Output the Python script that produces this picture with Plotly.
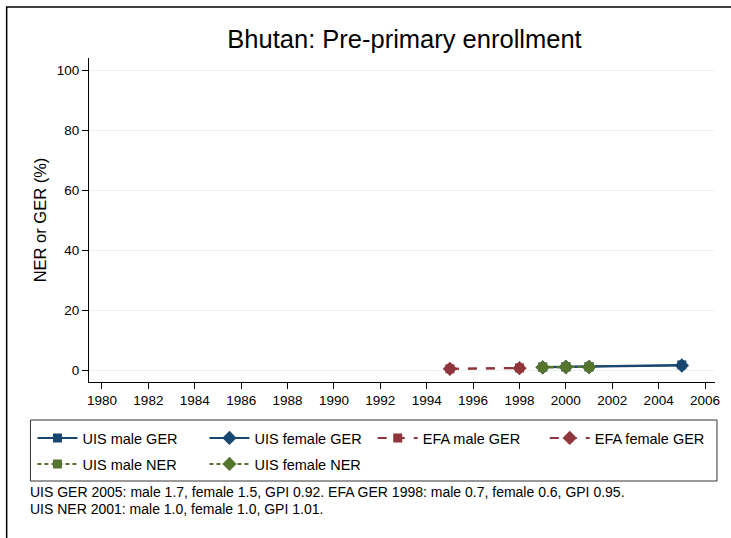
import plotly.graph_objects as go

# ---- data ----
uis_ger_years = [1999, 2000, 2001, 2005]
uis_male_ger = [1.0, 1.1, 1.1, 1.7]
uis_female_ger = [0.9, 1.0, 1.0, 1.5]
efa_years = [1995, 1998]
efa_male_ger = [0.4, 0.7]
efa_female_ger = [0.4, 0.6]
uis_ner_years = [1999, 2000, 2001]
uis_male_ner = [0.9, 1.0, 1.0]
uis_female_ner = [0.9, 1.0, 1.0]
x_ticks = list(range(1980, 2007, 2))
y_ticks = [0, 20, 40, 60, 80, 100]
title_text = "Bhutan: Pre-primary enrollment"
note_lines = [
    "UIS GER 2005: male 1.7, female 1.5, GPI 0.92. EFA GER 1998: male 0.7, female 0.6, GPI 0.95.",
    "UIS NER 2001: male 1.0, female 1.0, GPI 1.01.",
]

BLUE = "#1a476f"
RED = "#90353b"
GREEN = "#55752f"
FONT = "Liberation Sans, Arial, Helvetica, sans-serif"

W, H = 731, 538
L, R, T, B = 89, 720, 58, 382


def px(x):
    return (x - L) / (R - L)


def py(y):
    return (B - y) / (B - T)


fig = go.Figure()

series = [
    ("UIS male GER", uis_ger_years, uis_male_ger, BLUE, "square", "solid", "legend"),
    ("UIS female GER", uis_ger_years, uis_female_ger, BLUE, "diamond", "solid", "legend"),
    ("EFA male GER", efa_years, efa_male_ger, RED, "square", "dash", "legend3"),
    ("EFA female GER", efa_years, efa_female_ger, RED, "diamond", "dash", "legend3"),
    ("UIS male NER", uis_ner_years, uis_male_ner, GREEN, "square", "4px,3px", "legend2"),
    ("UIS female NER", uis_ner_years, uis_female_ner, GREEN, "diamond", "4px,3px", "legend2"),
]
for name, xs, ys, col, sym, dash, lg in series:
    fig.add_trace(go.Scatter(
        x=xs, y=ys, name=name, mode="lines+markers",
        line=dict(color=col, width=2, dash=dash),
        marker=dict(color=col, symbol=sym, size=11 if sym == "diamond" else 9),
        legend=lg,
    ))

legend_common = dict(
    orientation="h", xanchor="left", yanchor="middle",
    font=dict(family=FONT, size=14.5, color="#000"),
    bgcolor="rgba(0,0,0,0)", borderwidth=0,
    entrywidth=117, entrywidthmode="pixels", itemwidth=40,
)

fig.update_layout(
    width=W, height=H,
    margin=dict(l=L, r=W - R, t=T, b=H - B),
    paper_bgcolor="white", plot_bgcolor="white",
    font=dict(family=FONT, color="#000"),
    title=dict(text=title_text, x=(L + R) / 2 / W, xanchor="center",
               y=1 - 39 / H, yanchor="middle", yref="container",
               font=dict(size=25.5, color="#000")),
    xaxis=dict(range=[1979.44, 2006.43], tickvals=x_ticks, showgrid=False,
               zeroline=False, showline=True, linecolor="#000", linewidth=1,
               ticks="outside", ticklen=6, tickcolor="#000",
               tickfont=dict(size=13.5)),
    yaxis=dict(range=[-4, 104], tickvals=y_ticks, showgrid=True,
               gridcolor="#eaf2f3", gridwidth=1, zeroline=False,
               showline=True, linecolor="#000", linewidth=1,
               ticks="outside", ticklen=6, tickcolor="#000",
               tickfont=dict(size=13.5),
               title=dict(text="NER or GER (%)", font=dict(size=16.5), standoff=5)),
    legend=dict(x=px(32), y=py(438), **legend_common),
    legend3=dict(x=px(375), y=py(438), **legend_common),
    legend2=dict(x=px(32), y=py(464), **legend_common),
    shapes=[
        dict(type="rect", xref="paper", yref="paper",
             x0=px(30), x1=px(722), y0=py(420), y1=py(481),
             line=dict(color="#333", width=1), fillcolor="rgba(0,0,0,0)", layer="above"),
        dict(type="rect", xref="paper", yref="paper",
             x0=px(6), x1=px(740), y0=py(7), y1=py(545),
             line=dict(color="#000", width=1.5), fillcolor="rgba(0,0,0,0)", layer="above"),
    ],
    annotations=[
        dict(text=note_lines[0], xref="paper", yref="paper", x=px(29), y=py(492),
             xanchor="left", yanchor="middle", align="left", showarrow=False,
             borderpad=0, font=dict(size=14, color="#000")),
        dict(text=note_lines[1], xref="paper", yref="paper", x=px(29), y=py(509),
             xanchor="left", yanchor="middle", align="left", showarrow=False,
             borderpad=0, font=dict(size=14, color="#000")),
    ],
)

fig.write_html(
    "out.html",
    config={"displayModeBar": False},
    post_script="document.body.style.margin='0';document.body.style.padding='0';"
                "document.documentElement.style.overflow='hidden';",
)
